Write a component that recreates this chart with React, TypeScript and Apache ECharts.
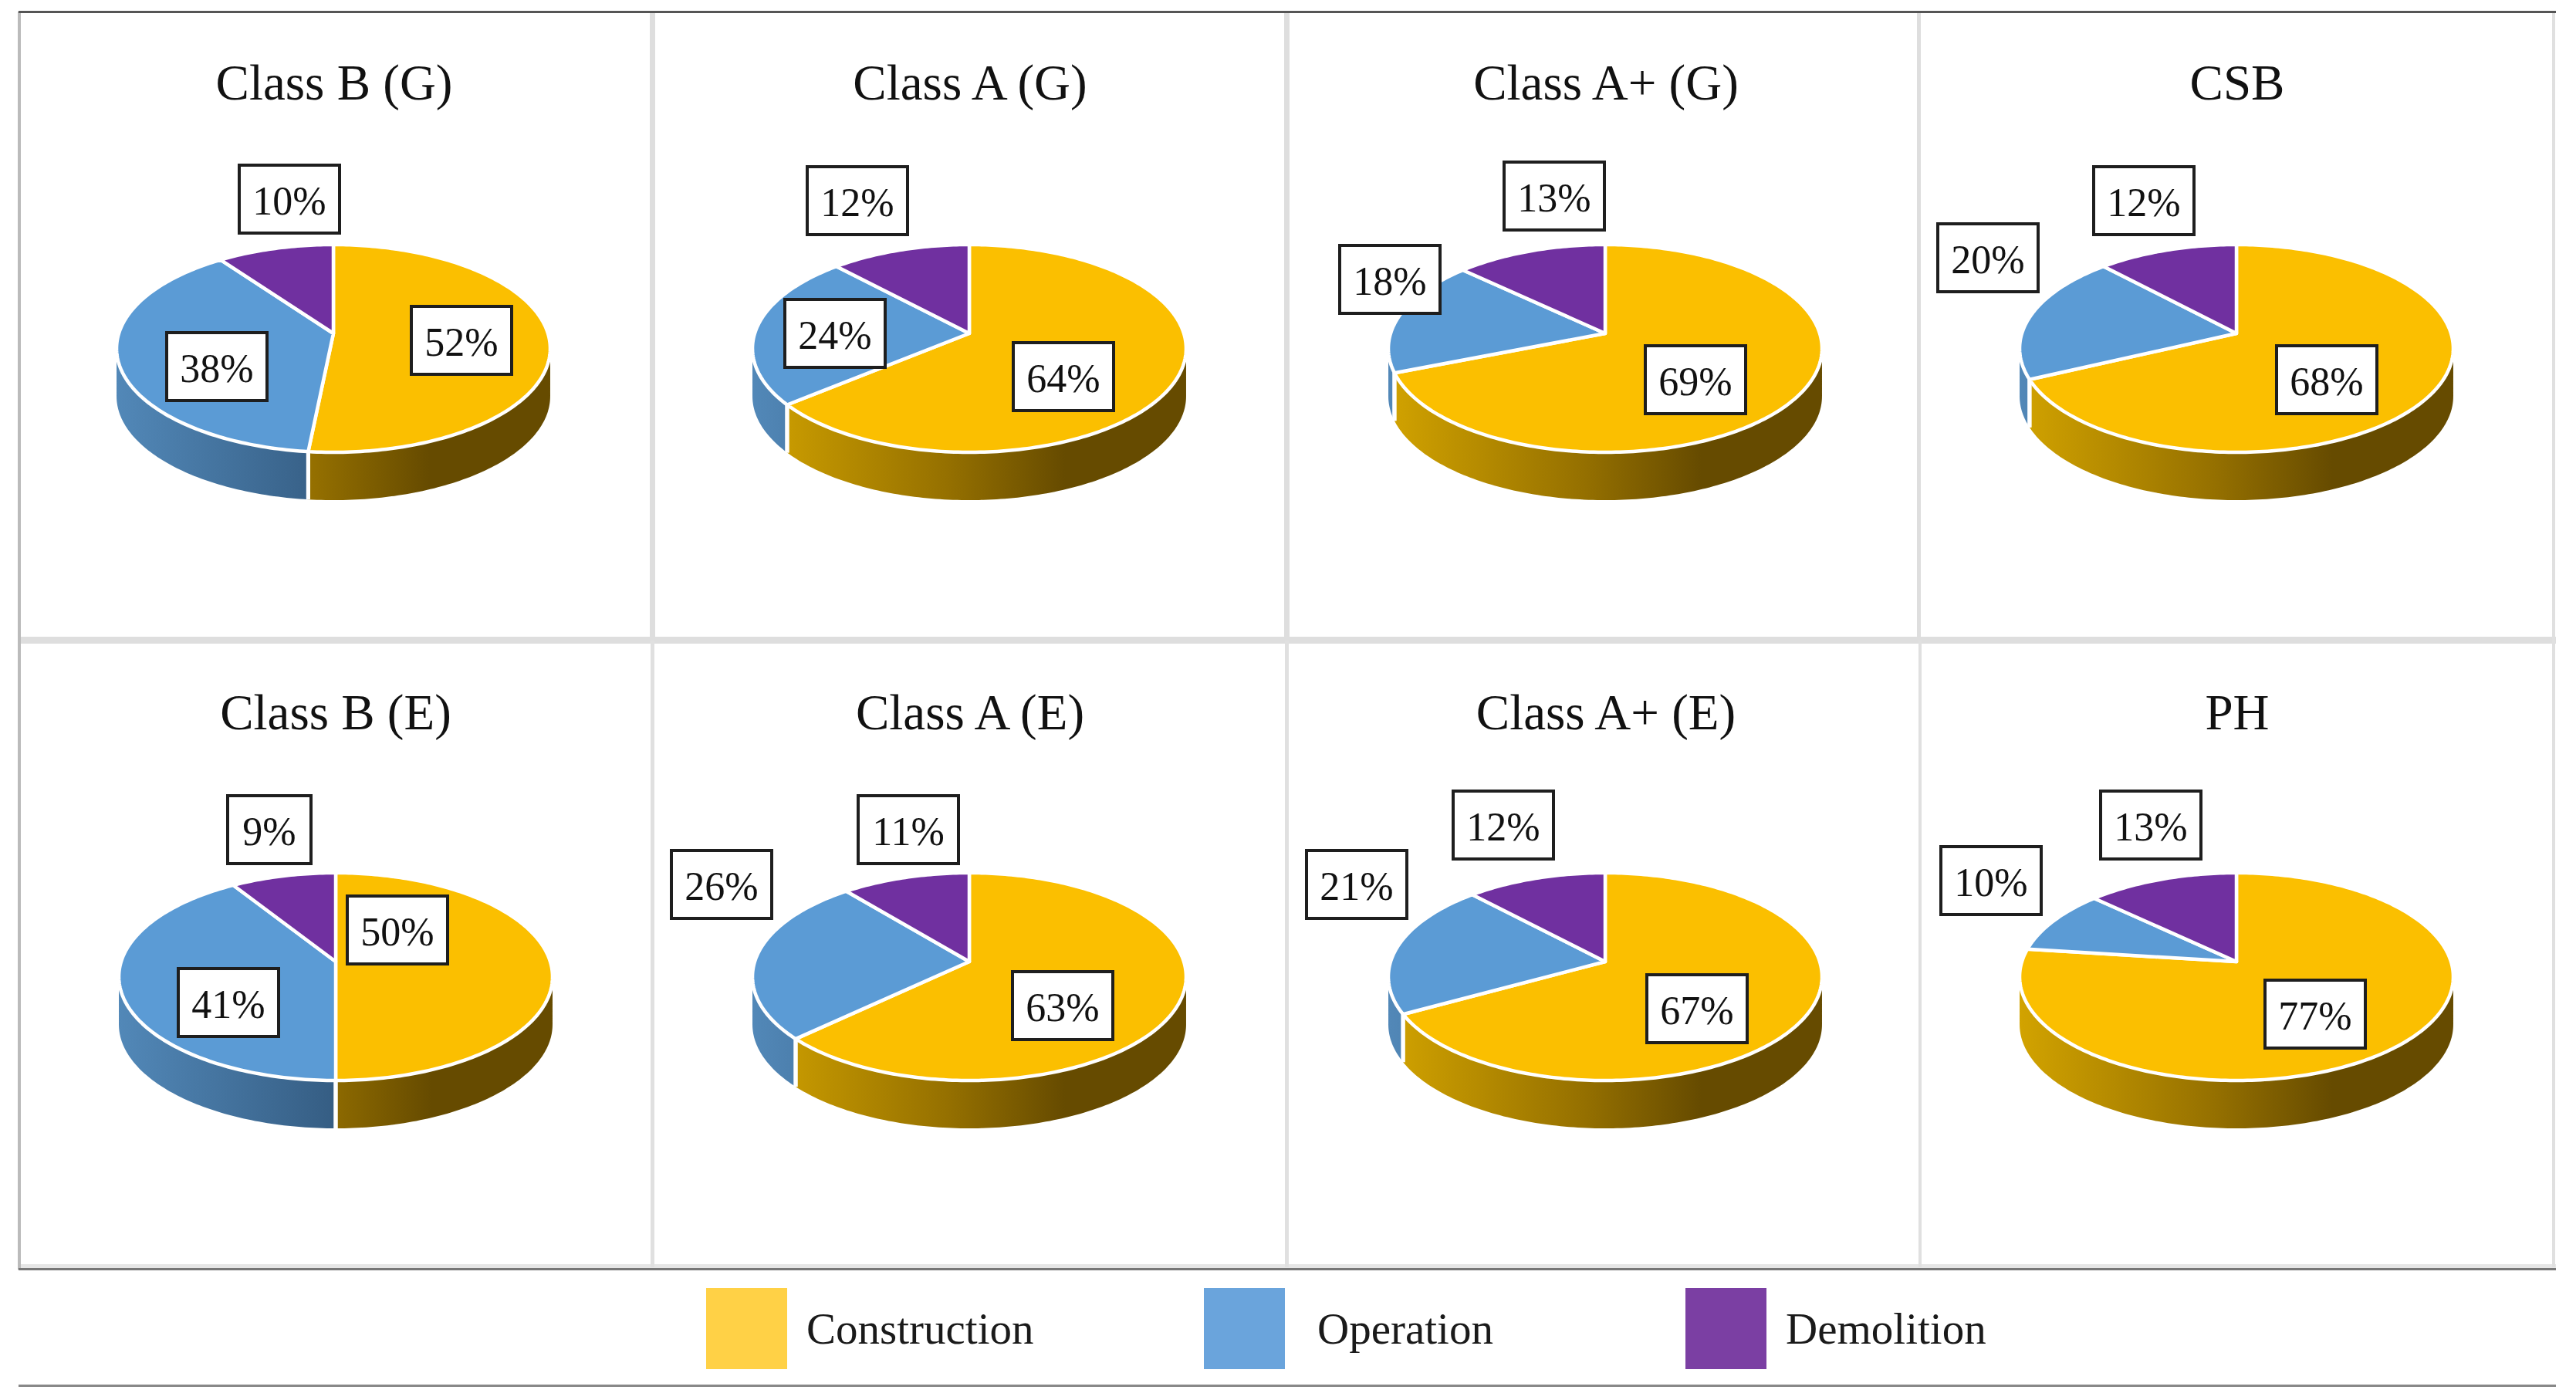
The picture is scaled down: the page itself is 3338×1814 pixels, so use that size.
import React, { useEffect, useRef } from "react";
import * as echarts from "echarts";

const panelTitles = ["Class B (G)", "Class A (G)", "Class A+ (G)", "CSB", "Class B (E)", "Class A (E)", "Class A+ (E)", "PH"];
const seriesNames = ["Construction", "Operation", "Demolition"];
const construction = [51.6, 64, 69, 68, 50, 63, 67, 77];
const operation = [38.4, 24, 18, 20, 41, 26, 21, 10];
const demolition = [10, 12, 13, 12, 9, 11, 12, 13];
const seriesValues = [construction, operation, demolition];

// layout, kept apart from the data
const W = 3338;
const H = 1814;
const FONT = "Liberation Serif";
const pieX = [432, 1256, 2080, 2898, 435, 1256, 2080, 2898];
const pieY = [432, 432, 432, 432, 1246, 1246, 1246, 1246];
const titleX = [428, 1252, 2076, 2894, 430, 1252, 2076, 2894];
const titleTop = [69, 69, 69, 69, 885, 885, 885, 885];
const R = 278;
const K = 0.145;
const A = 131.7;
const DEPTH = 62;
const BOX_W = 130;
const BOX_W_ONE_DIGIT = 108;
const BOX_H = 88;
const labelCentres: number[][][] = [
  [[598, 441], [281, 475], [375, 258]],
  [[1378, 488], [1082, 432], [1111, 260]],
  [[2197, 492], [1801, 362], [2014, 254]],
  [[3015, 492], [2576, 334], [2778, 260]],
  [[515, 1205], [296, 1299], [349, 1075]],
  [[1377, 1303], [935, 1146], [1177, 1075]],
  [[2199, 1307], [1758, 1146], [1948, 1069]],
  [[3000, 1314], [2580, 1141], [2787, 1069]],
];
const topColors = ["#FBBF00", "#5B9BD5", "#7030A0"];
const legendColors = ["#FFD146", "#6AA4DC", "#7B3FA3"];
const wallStops = [
  [[0, "#D2A300"], [0.45, "#957000"], [0.72, "#664B00"], [1, "#664B00"]],
  [[0, "#5288B8"], [0.5, "#355D83"], [1, "#355D83"]],
  [[0, "#5E2888"], [1, "#3E1A5C"]],
];
const legendLeft = [915, 1560, 2184];
const legendPad = [20, 37, 20];

const rad = (d: number) => (d * Math.PI) / 180;
const FRONT_A = 90 + (Math.asin(K) * 180) / Math.PI;
const FRONT_B = 360 - FRONT_A;

function project(cx: number, cy: number, deg: number, drop = 0): number[] {
  const s = Math.sin(rad(deg));
  const c = Math.cos(rad(deg));
  const w = 1 + K * c;
  return [cx + (R * s) / w, cy - (A * c) / w + drop];
}

function arc(cx: number, cy: number, a: number, b: number, drop = 0): number[][] {
  const out: number[][] = [];
  const n = Math.max(2, Math.ceil(b - a));
  for (let i = 0; i <= n; i++) out.push(project(cx, cy, a + ((b - a) * i) / n, drop));
  return out;
}

function makeRender(seriesIndex: number) {
  return (params: any, api: any) => {
    const panel = params.dataIndex;
    const value = api.value(0);
    let before = 0;
    for (let i = 0; i < seriesIndex; i++) before += seriesValues[i][panel];
    const a0 = (before / 100) * 360;
    const a1 = ((before + value) / 100) * 360;
    const cx = pieX[panel];
    const cy = pieY[panel];
    const children: any[] = [];

    const f0 = Math.max(a0, FRONT_A);
    const f1 = Math.min(a1, FRONT_B);
    if (f1 > f0) {
      const upper = arc(cx, cy, f0, f1);
      const lower = arc(cx, cy, f0, f1, DEPTH).reverse();
      const left = cx - R * 1.014;
      const right = cx + R * 1.014;
      children.push({
        type: "polygon",
        z2: 1,
        shape: { points: upper.concat(lower) },
        style: {
          stroke: null,
          fill: new echarts.graphic.LinearGradient(
            left, 0, right, 0,
            wallStops[seriesIndex].map((s: any) => ({ offset: s[0], color: s[1] })),
            true
          ),
        },
      });
      [a0, a1].forEach((t) => {
        if (t > FRONT_A && t < FRONT_B) {
          const p = project(cx, cy, t);
          children.push({
            type: "line",
            z2: 2,
            shape: { x1: p[0], y1: p[1], x2: p[0], y2: p[1] + DEPTH },
            style: { stroke: "#FFFFFF", lineWidth: 5 },
          });
        }
      });
    }

    children.push({
      type: "polygon",
      z2: 3,
      shape: { points: [[cx, cy]].concat(arc(cx, cy, a0, a1)) },
      style: { fill: topColors[seriesIndex], stroke: "#FFFFFF", lineWidth: 4.5, lineJoin: "round" },
    });

    const shown = Math.round(value);
    const boxW = shown < 10 ? BOX_W_ONE_DIGIT : BOX_W;
    const lc = labelCentres[panel][seriesIndex];
    children.push({
      type: "rect",
      z2: 100,
      shape: { x: lc[0] - boxW / 2, y: lc[1] - BOX_H / 2, width: boxW, height: BOX_H },
      style: { fill: "#FFFFFF", stroke: "#1E1E1E", lineWidth: 4 },
    });
    children.push({
      type: "text",
      z2: 101,
      x: lc[0],
      y: lc[1] + 2,
      style: {
        text: shown + "%",
        fill: "#111111",
        font: `52px "${FONT}"`,
        align: "center",
        verticalAlign: "middle",
      },
    });
    return { type: "group", children };
  };
}

function lineRect(x: number, y: number, width: number, height: number, fill: string) {
  return { type: "rect", z: 0, silent: true, shape: { x, y, width, height }, style: { fill } };
}

const gridGraphics = [
  lineRect(24, 825, 3288, 9, "#DEDEDE"),
  lineRect(24, 1638, 3288, 6, "#E6E6E6"),
  lineRect(842, 17, 7, 810, "#DEDEDE"),
  lineRect(1664, 17, 7, 810, "#DEDEDE"),
  lineRect(2484, 17, 5, 810, "#DEDEDE"),
  lineRect(843, 830, 5, 812, "#E0E0E0"),
  lineRect(1665, 830, 5, 812, "#E0E0E0"),
  lineRect(2486, 830, 4, 812, "#E0E0E0"),
  lineRect(3307, 17, 4, 1625, "#E0E0E0"),
  lineRect(23, 15, 4, 1630, "#BBBBBB"),
  lineRect(24, 14, 3288, 3, "#555555"),
  lineRect(24, 1643, 3288, 3, "#777777"),
  lineRect(24, 1794, 3288, 3, "#888888"),
];

export default function App() {
  const ref = useRef<HTMLDivElement>(null);
  useEffect(() => {
    document.body.style.margin = "0";
    document.body.style.background = "#FFFFFF";
    const chart = echarts.init(ref.current!, undefined, { renderer: "svg" });
    chart.setOption({
      animation: false,
      backgroundColor: "#FFFFFF",
      title: panelTitles.map((text, i) => ({
        text,
        left: titleX[i],
        top: titleTop[i],
        textAlign: "center",
        textStyle: { fontFamily: FONT, fontSize: 65, fontWeight: "normal", color: "#111111" },
      })),
      legend: seriesNames.map((name, i) => ({
        data: [{ name, icon: "rect", itemStyle: { color: legendColors[i] } }],
        left: legendLeft[i],
        top: 1669,
        padding: 0,
        itemWidth: 105,
        itemHeight: 105,
        selectedMode: false,
        textStyle: { fontFamily: FONT, fontSize: 57, color: "#1A1A1A", padding: [0, 0, 0, legendPad[i]] },
      })),
      graphic: { elements: gridGraphics },
      series: seriesNames.map((name, i) => ({
        type: "custom",
        name,
        coordinateSystem: "none",
        silent: true,
        itemStyle: { color: legendColors[i] },
        data: seriesValues[i].map((v) => [v]),
        renderItem: makeRender(i),
      })),
    });
    return () => chart.dispose();
  }, []);
  return <div ref={ref} style={{ width: W, height: H, position: "absolute", left: 0, top: 0 }} />;
}
